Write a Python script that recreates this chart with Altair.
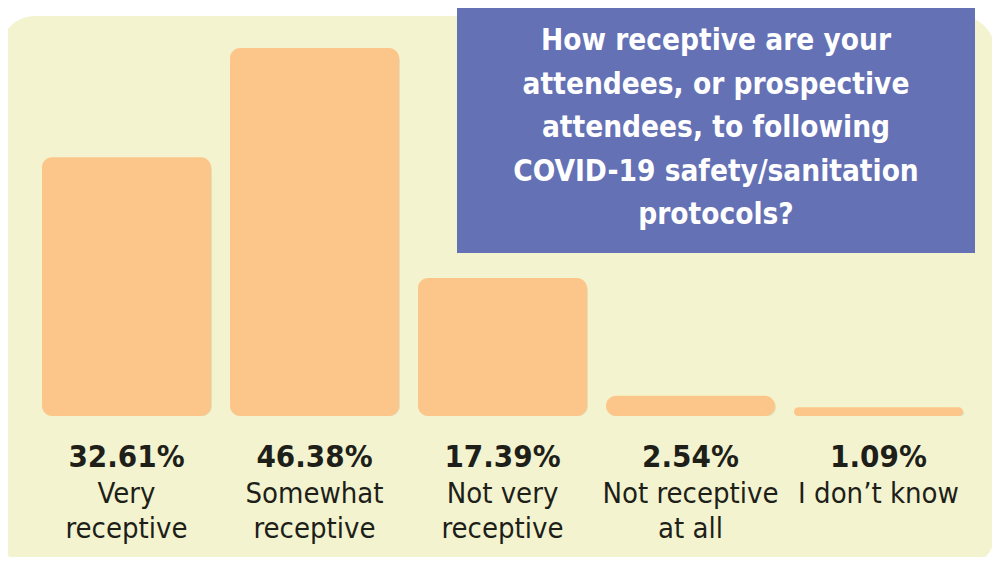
import altair as alt
import pandas as pd

categories = ["Very receptive", "Somewhat receptive", "Not very receptive", "Not receptive at all", "I don\u2019t know"]
label_lines = ["Very\nreceptive", "Somewhat\nreceptive", "Not very\nreceptive", "Not receptive\nat all", "I don\u2019t know"]
values = [32.61, 46.38, 17.39, 2.54, 1.09]
value_labels = ["32.61%", "46.38%", "17.39%", "2.54%", "1.09%"]
title_lines = ["How receptive are your", "attendees, or prospective", "attendees, to following",
               "COVID-19 safety/sanitation", "protocols?"]

df = pd.DataFrame({"cat": categories, "lab": label_lines, "val": values, "vlab": value_labels})

FONT = "Liberation Sans Narrow, DejaVu Sans Condensed, Roboto, sans-serif"
BAR = "#fcc68b"
PANEL = "#f3f4cf"
BOX = "#6571b5"
INK = "#1f1f1a"

x_enc = alt.X("cat:N", sort=None, axis=None,
              scale=alt.Scale(range=[34, 955], paddingInner=0.101, paddingOuter=0))
y_enc = alt.Y("val:Q", axis=None, scale=alt.Scale(domain=[0, 50], range=[408, 11.3]))

one = pd.DataFrame({"a": [0]})

panel = alt.Chart(one).mark_rect(color=PANEL, cornerRadius=35).encode(
    x=alt.value(-8), x2=alt.value(987), y=alt.value(8), y2=alt.value(560))

box = alt.Chart(one).mark_rect(color=BOX).encode(
    x=alt.value(449), x2=alt.value(967), y=alt.value(-10), y2=alt.value(245))

title = alt.Chart(one).mark_text(
    text=title_lines, font=FONT, fontSize=29.5, fontWeight="bold", color="white",
    lineHeight=43.5, align="center", baseline="alphabetic").encode(
    x=alt.value(708), y=alt.value(42))

base = alt.Chart(df)

shadow = base.mark_bar(color="#b9b99a", opacity=0.35, cornerRadius=10, yOffset=3, xOffset=1).encode(
    x=x_enc, y=y_enc, y2=alt.datum(0))

bars = base.mark_bar(color=BAR, cornerRadius=10).encode(x=x_enc, y=y_enc, y2=alt.datum(0))

vtext = base.mark_text(font=FONT, fontSize=31, fontWeight="bold", color=INK,
                       align="center", baseline="alphabetic").encode(
    x=x_enc, y=alt.value(459), text="vlab:N")

ctext = base.mark_text(font=FONT, fontSize=29, color=INK, lineBreak="\n", lineHeight=35,
                       align="center", baseline="alphabetic").encode(
    x=x_enc, y=alt.value(495), text="lab:N")

chart = alt.layer(panel, box, title, shadow, bars, vtext, ctext).properties(
    width=984, height=549, autosize=alt.AutoSizeParams(type="none"), padding=0,
    background="white"
).configure_view(stroke=None)

chart.save("out.html", embed_options={"renderer": "svg", "actions": False})
